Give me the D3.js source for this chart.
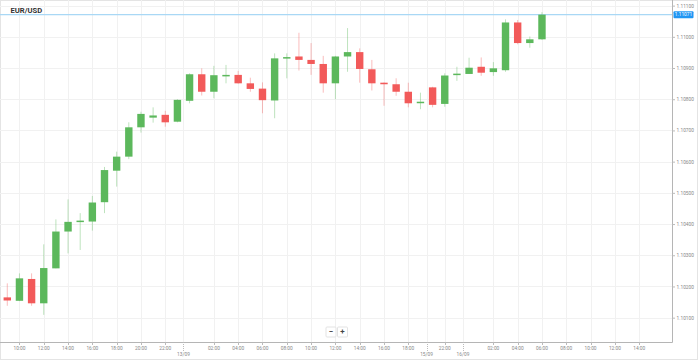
<!DOCTYPE html>
<html><head><meta charset="utf-8">
<script src="https://cdn.jsdelivr.net/npm/d3@7"></script>
<style>html,body{margin:0;padding:0;background:#fff;}svg{display:block;font-family:Roboto,Arial,sans-serif;}</style>
</head><body><svg id="c" width="698" height="361"></svg>
<script>
const title = "EUR/USD";
const opens  = [1.10165,1.10154,1.10224,1.10146,1.10258,1.10376,1.10407,1.10408,1.10470,1.10571,1.10616,1.10710,1.10741,1.10750,1.10728,1.10795,1.10880,1.10824,1.10875,1.10878,1.10851,1.10834,1.10796,1.10932,1.10937,1.10926,1.10913,1.10851,1.10937,1.10951,1.10896,1.10853,1.10848,1.10824,1.10790,1.10838,1.10785,1.10879,1.10881,1.10904,1.10887,1.10893,1.11046,1.10980,1.10992];
const highs  = [1.10210,1.10242,1.10242,1.10335,1.10415,1.10479,1.10435,1.10490,1.10583,1.10632,1.10726,1.10760,1.10774,1.10763,1.10800,1.10883,1.10899,1.10907,1.10910,1.10891,1.10869,1.10854,1.10947,1.10947,1.11013,1.10980,1.10939,1.10939,1.11028,1.10963,1.10926,1.10854,1.10867,1.10853,1.10821,1.10840,1.10883,1.10904,1.10933,1.10934,1.10919,1.11056,1.11054,1.11001,1.11079];
const lows   = [1.10138,1.10153,1.10138,1.10109,1.10258,1.10306,1.10317,1.10379,1.10435,1.10520,1.10608,1.10693,1.10725,1.10712,1.10726,1.10787,1.10812,1.10803,1.10851,1.10850,1.10824,1.10755,1.10739,1.10867,1.10892,1.10878,1.10821,1.10800,1.10888,1.10853,1.10828,1.10779,1.10811,1.10774,1.10768,1.10774,1.10776,1.10859,1.10881,1.10875,1.10875,1.10888,1.10976,1.10965,1.10990];
const closes = [1.10155,1.10226,1.10146,1.10259,1.10376,1.10407,1.10411,1.10469,1.10573,1.10616,1.10710,1.10753,1.10748,1.10726,1.10798,1.10880,1.10824,1.10877,1.10878,1.10851,1.10833,1.10797,1.10931,1.10935,1.10926,1.10913,1.10851,1.10937,1.10951,1.10897,1.10851,1.10848,1.10824,1.10787,1.10792,1.10782,1.10876,1.10882,1.10901,1.10885,1.10899,1.11046,1.10980,1.10992,1.11071];
const lastPrice = 1.11071;
const priceTicks = [1.101,1.102,1.103,1.104,1.105,1.106,1.107,1.108,1.109,1.110,1.111];
const timeTickIndex  = [1,3,5,7,9,11,13,17,19,21,23,25,27,29,31,33,36,40,42,44,46,48,50,52];
const timeTickLabels = ["10:00","12:00","14:00","16:00","18:00","20:00","22:00","02:00","04:00","06:00","08:00","10:00","12:00","14:00","16:00","18:00","22:00","02:00","04:00","06:00","08:00","10:00","12:00","14:00"];
const dateTickIndex  = [14.5,34.5,37.5];
const dateTickLabels = ["13/09","15/09","16/09"];
const xDomain = [-0.6, 54.7];
const yDomain = [1.10022, 1.11118];

const svg = d3.select("#c");
const W = 672, H = 342;
const x = d3.scaleLinear().domain(xDomain).range([0, W]);
const y = d3.scaleLinear().domain(yDomain).range([H, 0]);

// outer frame
svg.append("rect").attr("x",0.5).attr("y",0.5).attr("width",697).attr("height",359)
  .attr("fill","none").attr("stroke","#e4e4e4");

// gridlines
const grid = svg.append("g");
grid.selectAll(".hg").data(priceTicks).join("line")
  .attr("x1",0).attr("x2",W).attr("y1",d=>Math.round(y(d))+0.5).attr("y2",d=>Math.round(y(d))+0.5)
  .attr("stroke","#f1f1f1");
grid.selectAll(".vg").data(timeTickIndex.concat(dateTickIndex)).join("line")
  .attr("y1",0).attr("y2",H).attr("x1",d=>Math.round(x(d))+0.5).attr("x2",d=>Math.round(x(d))+0.5)
  .attr("stroke","#f1f1f1");

// last price line
svg.append("line").attr("x1",0).attr("x2",W).attr("y1",y(lastPrice)).attr("y2",y(lastPrice))
  .attr("stroke","#a9d8f5").attr("stroke-width",1.2);

// candles
const idx = d3.range(opens.length);
const bw = 7.4;
const cg = svg.append("g");
const up = i => closes[i] >= opens[i];
const green = "#5cb85c", red = "#f25a5a";
cg.selectAll(".wick").data(idx).join("line")
  .attr("x1",i=>x(i)).attr("x2",i=>x(i)).attr("y1",i=>y(highs[i])).attr("y2",i=>y(lows[i]))
  .attr("stroke",i=>up(i)?green:red).attr("stroke-opacity",0.4).attr("stroke-width",1);
cg.selectAll(".body").data(idx).join("rect")
  .attr("x",i=>x(i)-bw/2).attr("width",bw)
  .attr("y",i=>y(Math.max(opens[i],closes[i])))
  .attr("height",i=>Math.max(1.5, Math.abs(y(opens[i])-y(closes[i]))))
  .attr("fill",i=>up(i)?green:red);

// axes frame
svg.append("line").attr("x1",W+0.5).attr("x2",W+0.5).attr("y1",0).attr("y2",H+0.5).attr("stroke","#b5b5b5");
svg.append("line").attr("x1",0).attr("x2",W+0.5).attr("y1",H+0.5).attr("y2",H+0.5).attr("stroke","#b5b5b5");

// price axis
const ya = svg.append("g").attr("transform",`translate(${W},0)`)
  .call(d3.axisRight(y).tickValues(priceTicks).tickFormat(d=>d.toFixed(5)).tickSize(3).tickPadding(1.5));
ya.select(".domain").remove();
ya.selectAll(".tick line").attr("stroke","#bbb");
ya.selectAll(".tick text").attr("fill","#888").style("font-size","4.8px").style("font-family","Roboto, Arial, sans-serif");

// last price badge
const by = y(lastPrice);
svg.append("rect").attr("x",W+1.5).attr("y",by-3.5).attr("width",20).attr("height",7).attr("rx",1)
  .attr("fill","#2196f3");
svg.append("text").attr("x",W+11.5).attr("y",by+0.2).attr("text-anchor","middle").attr("dominant-baseline","middle")
  .attr("fill","#fff").style("font-size","4.8px").text(lastPrice.toFixed(5));

// time axis
const tg = svg.append("g");
tg.selectAll(".tt").data(timeTickIndex).join("line")
  .attr("x1",d=>Math.round(x(d))+0.5).attr("x2",d=>Math.round(x(d))+0.5).attr("y1",H).attr("y2",H+3)
  .attr("stroke","#bbb");
tg.selectAll(".tl").data(timeTickIndex).join("text")
  .attr("x",d=>x(d)).attr("y",H+6.5).attr("text-anchor","middle").attr("dominant-baseline","middle")
  .attr("fill","#888").style("font-size","4.8px").text((d,i)=>timeTickLabels[i]);
tg.selectAll(".dt").data(dateTickIndex).join("line")
  .attr("x1",d=>Math.round(x(d))+0.5).attr("x2",d=>Math.round(x(d))+0.5).attr("y1",H).attr("y2",H+9)
  .attr("stroke","#bbb").attr("stroke-dasharray","1,1");
tg.selectAll(".dl").data(dateTickIndex).join("text")
  .attr("x",d=>x(d)).attr("y",H+12.5).attr("text-anchor","middle").attr("dominant-baseline","middle")
  .attr("fill","#888").style("font-size","4.8px").text((d,i)=>dateTickLabels[i]);

// title
svg.append("text").attr("x",10.5).attr("y",11).attr("dominant-baseline","middle")
  .attr("fill","#333").style("font-size","7.6px").style("font-weight","bold").text(title);

// zoom buttons
const zb = svg.append("g");
[["−",326],["+",337.5]].forEach(([t,bx])=>{
  zb.append("rect").attr("x",bx).attr("y",327).attr("width",10).attr("height",10).attr("rx",1)
    .attr("fill","#fff").attr("stroke","#e3e3e3");
  zb.append("text").attr("x",bx+5).attr("y",332.3).attr("text-anchor","middle").attr("dominant-baseline","middle")
    .attr("fill","#444").style("font-size","8px").style("font-weight","bold").text(t);
});
</script></body></html>
